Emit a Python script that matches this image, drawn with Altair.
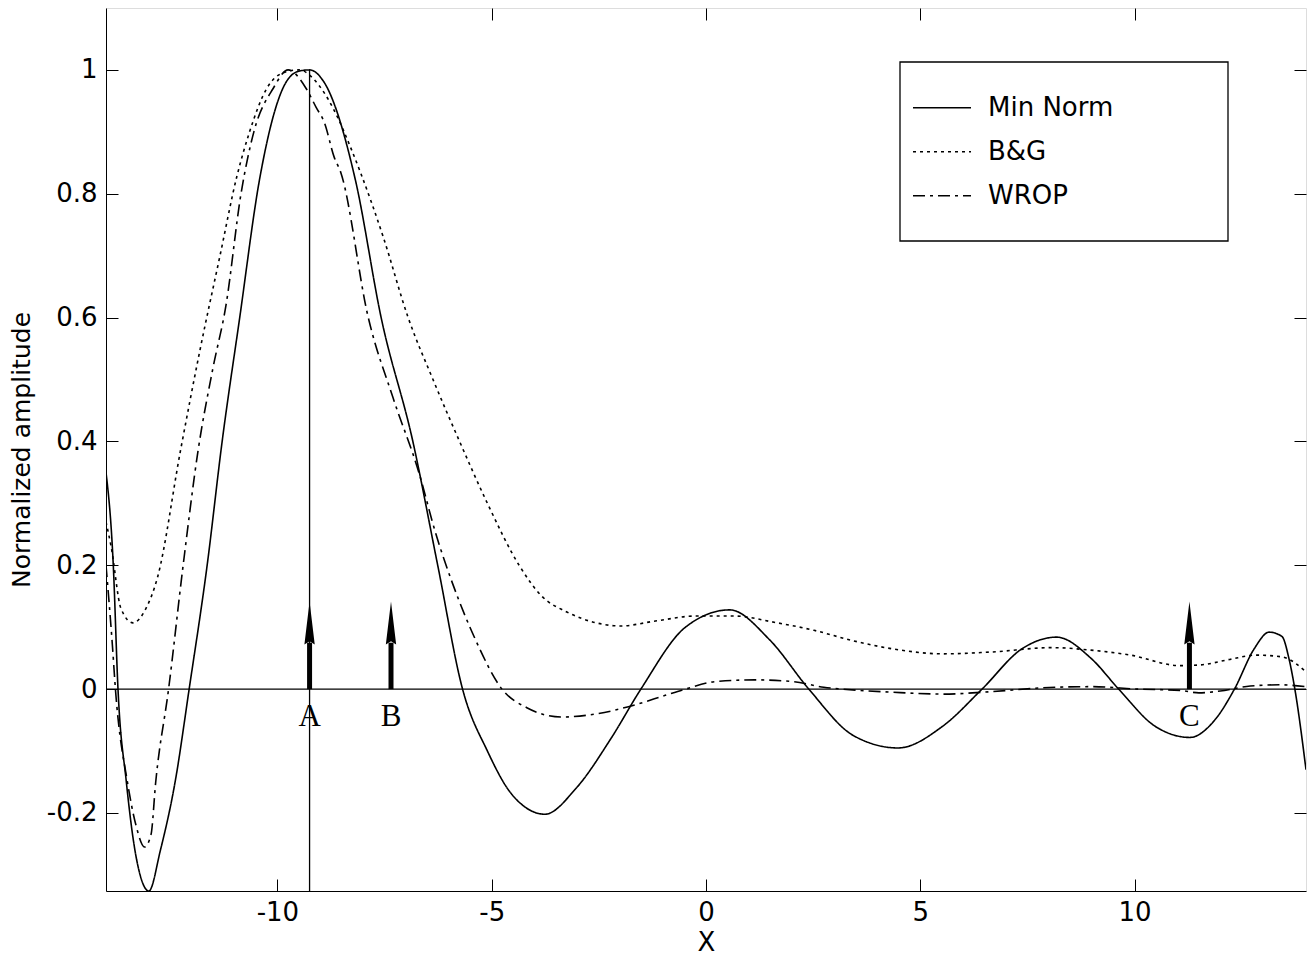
import altair as alt
import pandas as pd

# ---------------- data ----------------
series_names = ["Min Norm", "B&G", "WROP"]

mn_x = [-14.0, -13.83, -13.72, -13.53, -13.3, -13.0, -12.73, -12.38, -12.06, -11.64,
        -11.29, -10.88, -10.42, -9.84, -9.5, -9.25, -8.91, -8.18, -7.58, -6.84,
        -6.26, -5.68, -5.1, -4.53, -3.76, -3.03, -2.22, -1.52, -0.48, 0.55,
        1.48, 2.4, 3.44, 4.48, 5.52, 6.44, 7.37, 8.18, 8.98, 9.63,
        10.48, 11.29, 11.87, 12.33, 12.79, 13.14, 13.44, 13.6, 13.74, 14.0]
mn_y = [0.35, 0.2, 0.0, -0.147, -0.27, -0.326, -0.26, -0.147, 0.0, 0.2,
        0.4, 0.6, 0.822, 0.975, 0.998, 1.0, 0.98, 0.822, 0.6, 0.4,
        0.2, 0.0, -0.1, -0.17, -0.202, -0.16, -0.08, 0.0, 0.1, 0.128,
        0.08, 0.0, -0.075, -0.095, -0.06, 0.0, 0.065, 0.084, 0.05, 0.0,
        -0.06, -0.078, -0.05, 0.0, 0.065, 0.092, 0.085, 0.05, 0.0, -0.13]

bg_x = [-14.0, -13.88, -13.65, -13.37, -13.07, -12.8, -12.26, -11.8, -11.34, -10.95,
        -10.65, -10.25, -9.88, -9.5, -9.03, -8.6, -8.3, -8.06, -7.53, -6.95,
        -6.37, -5.75, -5.1, -4.36, -3.83, -3.26, -2.56, -1.99, -1.18, -0.25,
        0.67, 1.59, 2.52, 3.44, 4.36, 5.52, 6.67, 8.06, 8.98, 9.9,
        11.06, 11.52, 12.22, 12.84, 13.44, 14.0]
bg_y = [0.27, 0.23, 0.13, 0.107, 0.13, 0.18, 0.386, 0.55, 0.7, 0.827,
        0.9, 0.97, 0.995, 1.0, 0.975, 0.924, 0.876, 0.834, 0.73, 0.6,
        0.5, 0.4, 0.3, 0.2, 0.15, 0.125, 0.107, 0.102, 0.11, 0.118,
        0.118, 0.108, 0.095, 0.078, 0.065, 0.057, 0.06, 0.067, 0.063, 0.055,
        0.038, 0.039, 0.048, 0.055, 0.052, 0.028]

wr_x = [-14.0, -13.85, -13.78, -13.5, -13.3, -13.1, -12.95, -12.84, -12.54, -12.2,
        -11.85, -11.5, -11.2, -10.85, -10.55, -10.1, -9.75, -9.33, -9.1, -8.9,
        -8.68, -8.52, -7.88, -7.3, -6.7, -6.3, -5.91, -5.38, -4.76, -4.18,
        -3.37, -2.56, -1.64, -0.95, -0.48, 0.2, 1.13, 2.06, 2.75, 3.2,
        4.36, 5.52, 6.67, 7.83, 8.98, 10.1, 11.06, 11.5, 12.0, 12.7,
        13.4, 14.0]
wr_y = [0.2, 0.07, 0.0, -0.15, -0.22, -0.255, -0.235, -0.15, 0.0, 0.2,
        0.386, 0.52, 0.62, 0.8, 0.9, 0.97, 1.0, 0.97, 0.94, 0.914,
        0.86, 0.834, 0.6, 0.47, 0.35, 0.25, 0.17, 0.08, 0.0, -0.03,
        -0.045, -0.04, -0.025, -0.01, 0.0, 0.012, 0.015, 0.012, 0.003, 0.0,
        -0.005, -0.008, -0.004, 0.002, 0.004, 0.0, -0.002, -0.006, -0.003, 0.005,
        0.007, 0.004]

# source markers (arrows) and their labels
arrow_x = [-9.25, -7.35, 11.28]
arrow_labels = ["A", "B", "C"]
arrow_shaft_top = 0.075
arrow_head_mid = 0.107
label_y = -0.02

# vertical line marking the Min Norm peak
peak_x = [-9.25]
peak_y = [1.0]

x_ticks = [-10, -5, 0, 5, 10]
y_ticks = [-0.2, 0, 0.2, 0.4, 0.6, 0.8, 1]
X_DOMAIN = [-14, 14]
Y_DOMAIN = [-0.326, 1.1]

# ---------------- tables ----------------
rows = []
for name, xs_, ys_ in [("Min Norm", mn_x, mn_y), ("B&G", bg_x, bg_y), ("WROP", wr_x, wr_y)]:
    for a, b in zip(xs_, ys_):
        rows.append({"x": a, "y": b, "series": name})
df_lines = pd.DataFrame(rows)

df_zero = pd.DataFrame({"y": [0.0]})
df_peak = pd.DataFrame({"x": peak_x, "y0": [Y_DOMAIN[0]], "y1": peak_y})
df_arrows = pd.DataFrame({"x": arrow_x, "y0": [0.0] * 3, "y1": [arrow_shaft_top] * 3,
                          "yh": [arrow_head_mid] * 3, "label": arrow_labels,
                          "yl": [label_y] * 3})

# ---------------- styling ----------------
W, H = 1200, 883
FONT = "DejaVu Sans"
xsc = alt.Scale(domain=X_DOMAIN, nice=False, zero=False)
ysc = alt.Scale(domain=Y_DOMAIN, nice=False, zero=False)

tick_common = dict(labels=False, domain=False, grid=False, ticks=True, tickSize=12,
                   tickColor="black", tickWidth=1, title=None)
x_in_bottom = alt.Axis(orient="top", offset=-H, values=x_ticks, **tick_common)
x_in_top = alt.Axis(orient="bottom", offset=-H, values=x_ticks, **tick_common)
y_in_left = alt.Axis(orient="right", offset=-W, values=y_ticks, **tick_common)
y_in_right = alt.Axis(orient="left", offset=-W, values=y_ticks, **tick_common)

main_x_axis = alt.Axis(orient="bottom", values=x_ticks, labelExpr="'' + datum.value",
                       ticks=False, grid=False, domain=True, domainColor="black",
                       labelFont=FONT, labelFontSize=26, labelColor="black", labelPadding=8,
                       title="X", titleFont=FONT, titleFontSize=26, titleFontWeight="normal",
                       titleColor="black", titlePadding=4)
main_y_axis = alt.Axis(orient="left", values=y_ticks, labelExpr="'' + datum.value",
                       ticks=False, grid=False, domain=True, domainColor="black",
                       labelFont=FONT, labelFontSize=26, labelColor="black", labelPadding=9,
                       title="Normalized amplitude", titleFont=FONT, titleFontSize=25,
                       titleFontWeight="normal", titleColor="black", titlePadding=12)

# legend frame (plot-relative pixels)
legend_frame = alt.Chart(df_zero).mark_rect(
    fill="white", stroke="black", strokeWidth=1.3
).encode(
    x=alt.value(794), x2=alt.value(1122), y=alt.value(54), y2=alt.value(233)
)

zero_line = alt.Chart(df_zero).mark_rule(color="black", strokeWidth=1.3).encode(
    y=alt.Y("y:Q", scale=ysc, axis=y_in_left)
)

peak_line = alt.Chart(df_peak).mark_rule(color="black", strokeWidth=1.3).encode(
    x=alt.X("x:Q", scale=xsc, axis=x_in_top),
    y=alt.Y("y0:Q", scale=ysc, axis=y_in_right),
    y2="y1:Q",
)

shafts = alt.Chart(df_arrows).mark_rule(color="black", strokeWidth=5).encode(
    x=alt.X("x:Q", scale=xsc, axis=x_in_bottom),
    y=alt.Y("y0:Q", scale=ysc, axis=None),
    y2="y1:Q",
)

heads = alt.Chart(df_arrows).mark_point(
    shape="M0,-1L0.24,1L0,0.85L-0.24,1Z", filled=True, color="black", opacity=1,
    size=1849, strokeWidth=0,
).encode(
    x=alt.X("x:Q", scale=xsc, axis=None),
    y=alt.Y("yh:Q", scale=ysc, axis=None),
)

letters = alt.Chart(df_arrows).mark_text(
    font="Liberation Serif", fontSize=31, baseline="top", align="center", color="black"
).encode(
    x=alt.X("x:Q", scale=xsc, axis=None),
    y=alt.Y("yl:Q", scale=ysc, axis=None),
    text="label:N",
)

lines = alt.Chart(df_lines).mark_line(
    color="black", strokeWidth=1.6, clip=True, interpolate="monotone"
).encode(
    x=alt.X("x:Q", scale=xsc, axis=main_x_axis),
    y=alt.Y("y:Q", scale=ysc, axis=main_y_axis),
    strokeDash=alt.StrokeDash(
        "series:N",
        scale=alt.Scale(domain=series_names, range=[[1, 0], [3, 4], [12, 5, 3, 5]]),
        legend=alt.Legend(
            title=None,
            orient="none", legendX=806, legendY=78,
            symbolType="stroke", symbolSize=3364, symbolStrokeWidth=1.5,
            symbolStrokeColor="black",
            labelFont=FONT, labelFontSize=26, labelColor="black", labelOffset=16,
            labelLimit=500,
            padding=0, clipHeight=43.5, rowPadding=0,
            strokeColor="transparent", fillColor="transparent", cornerRadius=0,
        ),
    ),
)

chart = (
    alt.layer(legend_frame, zero_line, peak_line, shafts, heads, letters, lines)
    .resolve_axis(x="independent", y="independent")
    .properties(
        width=W, height=H,
        autosize=alt.AutoSizeParams(type="none"),
        padding={"left": 98, "top": 0, "right": 1, "bottom": 65},
    )
    .configure_view(stroke="black", strokeWidth=1)
    .configure(background="white")
)

chart.save("out.html", embed_options={"renderer": "svg", "actions": False})
